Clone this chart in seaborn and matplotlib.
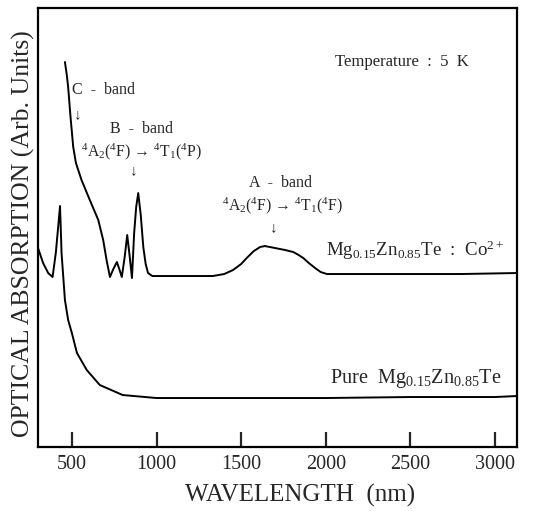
import matplotlib
matplotlib.use("Agg")
import matplotlib.pyplot as plt
import seaborn as sns
import pandas as pd

# ---- data (wavelength in nm, absorption in arbitrary units) ----
co_wl = [459, 470, 478, 492, 508, 524, 557, 606, 656, 685, 705, 725, 745, 766, 780, 795,
         812, 827, 842, 855, 868, 880, 892, 907, 922, 936, 950, 975, 1000, 1100, 1200,
         1333, 1400, 1452, 1500, 1533, 1575, 1612, 1640, 1700, 1760, 1808, 1840, 1867,
         1900, 1937, 1970, 2007, 2200, 2500, 2800, 3130]
co_abs = [385, 372, 360, 330, 300, 284, 267, 247, 227, 207, 187, 170, 178, 185, 178, 170,
          190, 212, 190, 169, 214, 240, 254, 232, 200, 183, 174, 171, 171, 171, 171,
          171, 173, 177, 183, 189, 196, 200, 201, 199, 197, 195, 192, 189,
          184, 179, 175, 173, 173, 173, 173, 174]

pure_wl = [300, 330, 360, 386, 405, 419, 430, 439, 459, 478, 500, 530, 588, 665, 800,
           1000, 1500, 2000, 2500, 3000, 3130]
pure_abs = [199, 184, 174, 170, 194, 220, 241, 194, 147, 127, 114, 94, 77, 62, 52,
            49, 49, 49, 50, 50, 51]

xticks = [500, 1000, 1500, 2000, 2500, 3000]

df = pd.concat([
    pd.DataFrame({"wl": co_wl, "abs": co_abs, "sample": "Co"}),
    pd.DataFrame({"wl": pure_wl, "abs": pure_abs, "sample": "Pure"}),
])

sns.set_style("white")
serif = ["Liberation Serif", "DejaVu Serif"]
plt.rcParams["font.family"] = serif
plt.rcParams["mathtext.fontset"] = "custom"
plt.rcParams["mathtext.rm"] = "Liberation Serif"
plt.rcParams["mathtext.it"] = "Liberation Serif:italic"

fig = plt.figure(figsize=(5.34, 5.11), dpi=100)
ax = fig.add_axes([0.0712, 0.1252, 0.8970, 0.8591])

sns.lineplot(data=df, x="wl", y="abs", units="sample", estimator=None, sort=False,
             color="black", linewidth=1.4, ax=ax, legend=False)

ax.set_xlim(300, 3130)
ax.set_ylim(0, 439)
ax.set_xticks(xticks)
ax.set_xticklabels([str(t) for t in xticks], fontsize=14.5)
ax.set_yticks([])
ax.tick_params(axis="x", direction="in", length=11, width=1.6, bottom=True, top=False, pad=6)
for s in ax.spines.values():
    s.set_linewidth(1.6)
    s.set_color("black")

ax.set_xlabel("WAVELENGTH  (nm)", fontsize=18)
ax.set_ylabel("OPTICAL ABSORPTION (Arb. Units)", fontsize=18.5)
ax.xaxis.set_label_coords(0.547, -0.085)
ax.yaxis.set_label_coords(-0.007, 0.485)


def fx(px):
    return (px - 38) / 479.0


def fy(py):
    return (447 - py) / 439.0


def t(px, py, s, size=10.5, ha="center"):
    ax.text(fx(px), fy(py), s, transform=ax.transAxes, ha=ha, va="center",
            fontsize=size, family=serif)

t(402, 62, "Temperature  :  5  K", 12)
t(72, 90, "C  -  band", 11.5, ha="left")
t(78, 115, "↓", 11)
t(141, 129, "B  -  band", 11.5)
t(141, 152, r"$^4$A$_2$($^4$F) → $^4$T$_1$($^4$P)", 11.3)
t(134, 171, "↓", 11)
t(280, 183, "A  -  band", 11.5)
t(282, 206, r"$^4$A$_2$($^4$F) → $^4$T$_1$($^4$F)", 11.3)
t(274, 228, "↓", 11)
t(326, 250, r"Mg$_{0.15}$Zn$_{0.85}$Te  :  Co$^{2+}$", 13.6, ha="left")
t(330, 378, r"Pure  Mg$_{0.15}$Zn$_{0.85}$Te", 14.6, ha="left")

fig.savefig("out.png", dpi=100)
